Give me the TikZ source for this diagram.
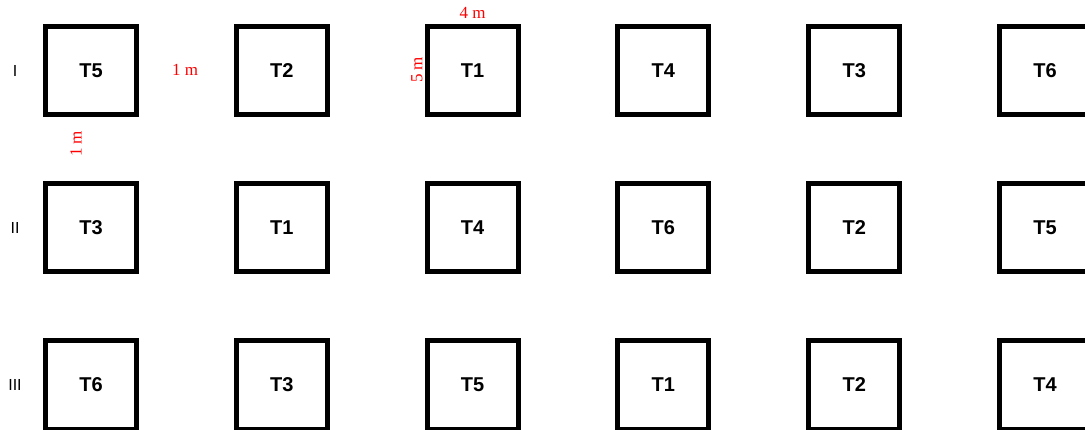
\documentclass[tikz,border=0pt]{standalone}
\usepackage{fontspec}
\setmainfont{Liberation Sans}
\newfontfamily\dimfont{Liberation Serif}

\begin{document}
\begin{tikzpicture}[x=1pt, y=-1pt,
    plot/.style={draw, line width=5pt, minimum width=91pt, minimum height=88pt,
      inner sep=0pt, font=\fontsize{20}{20}\selectfont\bfseries},
    rep/.style={font=\fontsize{16}{16}\selectfont},
    dim/.style={text=red, inner sep=0pt, font=\dimfont\fontsize{17}{17}\selectfont}]
        \useasboundingbox (0,0) rectangle (1085,430);

        % replicas
        \node[rep] (rI) at (15,70.5) {I};
        \node[rep] (rII) at (15,228) {II};
        \node[rep] (rIII) at (15,385) {III};

        % replica I
        \node[plot] (a1) at (91,70.5) {T5};
        \node[plot] (a2) at (281.8,70.5) {T2};
        \node[plot] (a3) at (472.6,70.5) {T1};
        \node[plot] (a4) at (663.4,70.5) {T4};
        \node[plot] (a5) at (854.2,70.5) {T3};
        \node[plot] (a6) at (1045,70.5) {T6};

        % replica II
        \node[plot] (b1) at (91,228) {T3};
        \node[plot] (b2) at (281.8,228) {T1};
        \node[plot] (b3) at (472.6,228) {T4};
        \node[plot] (b4) at (663.4,228) {T6};
        \node[plot] (b5) at (854.2,228) {T2};
        \node[plot] (b6) at (1045,228) {T5};

        % replica III
        \node[plot] (c1) at (91,385) {T6};
        \node[plot] (c2) at (281.8,385) {T3};
        \node[plot] (c3) at (472.6,385) {T5};
        \node[plot] (c4) at (663.4,385) {T1};
        \node[plot] (c5) at (854.2,385) {T2};
        \node[plot] (c6) at (1045,385) {T4};

        % dimensions
        \node[dim] (gapx) at (185,70) {1 m};
        \node[dim, rotate=90] (gapy) at (76,144) {1 m};
        \node[dim] (width) at (472.6,13) {4 m};
        \node[dim, rotate=90] (length) at (417,70) {5 m};
    \end{tikzpicture}
\end{document}
